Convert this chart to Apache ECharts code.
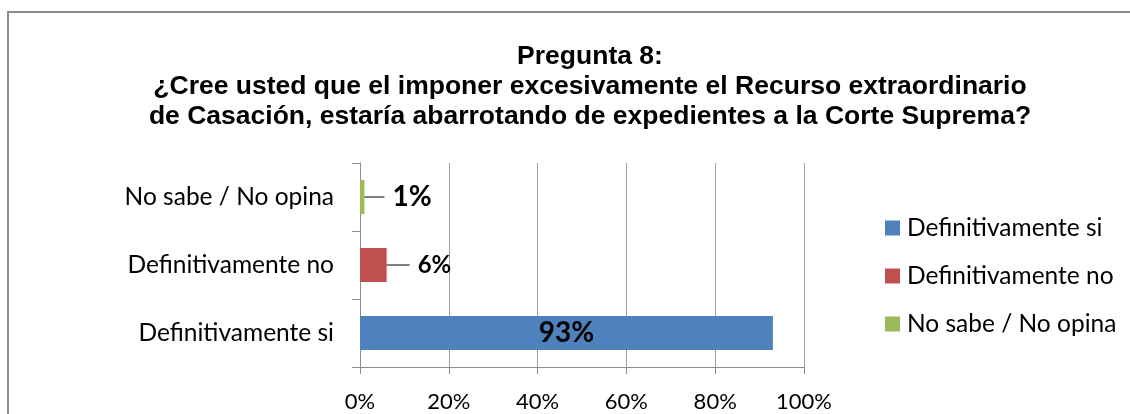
<!DOCTYPE html>
<html>
<head>
<meta charset="utf-8">
<script src="https://cdn.jsdelivr.net/npm/echarts@6/dist/echarts.min.js"></script>
<style>html,body{margin:0;padding:0;background:#fff}#c{width:1130px;height:414px}</style>
</head>
<body>
<div id="c"></div>
<script>
const titleLines = ['Pregunta 8:', '¿Cree usted que el imponer excesivamente el Recurso extraordinario', 'de Casación, estaría abarrotando de expedientes a la Corte Suprema?'];
const categories = ['Definitivamente si', 'Definitivamente no', 'No sabe / No opina'];
const values = [93, 6, 1];
const colors = ['#4F81BD', '#C0504D', '#9BBB59'];
const xTicks = [0, 20, 40, 60, 80, 100];

const FONT = 'Lato';
const chart = echarts.init(document.getElementById('c'));

const labelCfg = [
  { show: true, position: 'inside', formatter: '{c}%', fontFamily: FONT, fontWeight: 'bold', fontSize: 28, color: '#000' },
  { show: true, position: 'right', distance: 0, formatter: p => '{l|}{v|' + p.value + '%}',
    rich: { l: { width: 23, height: 1, backgroundColor: '#000' }, v: { fontFamily: FONT, fontWeight: 'bold', fontSize: 24, color: '#000', padding: [0, 0, 0, 8] } } },
  { show: true, position: 'right', distance: 0, formatter: p => '{l|}{v|' + p.value + '%}',
    rich: { l: { width: 20, height: 1, backgroundColor: '#000' }, v: { fontFamily: FONT, fontWeight: 'bold', fontSize: 28, color: '#000', padding: [0, 0, 0, 8] } } }
];

const series = categories.map((name, i) => ({
  name: name,
  type: 'bar',
  stack: 'total',
  barWidth: 34,
  itemStyle: { color: colors[i] },
  label: labelCfg[i],
  data: categories.map((c, j) => (j === i ? values[i] : '-'))
}));

chart.setOption({
  animation: false,
  title: {
    text: titleLines.join('\n'),
    left: 585,
    textAlign: 'center',
    top: 37,
    textStyle: { fontFamily: 'Liberation Sans', fontWeight: 'bold', fontSize: 26.5, lineHeight: 30, color: '#000' }
  },
  graphic: [{
    type: 'rect', shape: { x: 8, y: 12, width: 1200, height: 500 },
    style: { fill: 'none', stroke: '#8c8c8c', lineWidth: 2 }, silent: true, z: -1
  }],
  legend: {
    orient: 'vertical',
    left: 880,
    top: 210,
    itemWidth: 15,
    itemHeight: 15,
    itemGap: 22,
    icon: 'rect',
    textStyle: { fontFamily: FONT, fontSize: 24.5, lineHeight: 26, color: '#000', padding: [0, 0, 0, 2] },
    data: categories
  },
  grid: { left: 360, right: 326, top: 163, bottom: 47 },
  xAxis: {
    type: 'value', min: xTicks[0], max: xTicks[xTicks.length - 1], interval: xTicks[1] - xTicks[0],
    axisLine: { show: true, lineStyle: { color: '#8c8c8c', width: 1 } },
    axisTick: { show: true, length: 7, lineStyle: { color: '#8c8c8c' } },
    splitLine: { show: true, lineStyle: { color: '#a0a0a0', width: 1 } },
    axisLabel: { formatter: '{value}%', fontFamily: FONT, fontSize: 22, color: '#000', margin: 24 }
  },
  yAxis: {
    type: 'category', data: categories,
    axisLine: { show: true, lineStyle: { color: '#8c8c8c', width: 1 } },
    axisTick: { show: true, length: 8, lineStyle: { color: '#8c8c8c' } },
    axisLabel: { fontFamily: FONT, fontSize: 24.5, color: '#000', margin: 26 }
  },
  series: series
});
</script>
</body>
</html>
